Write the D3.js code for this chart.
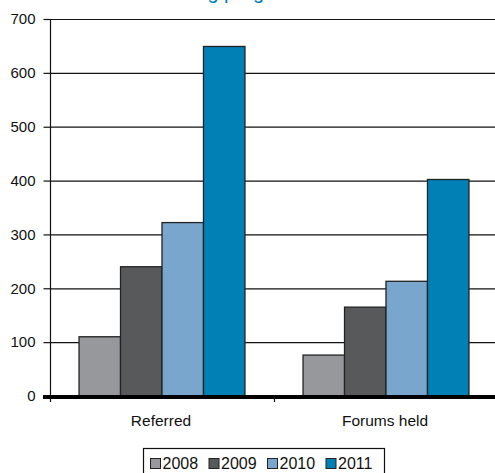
<!DOCTYPE html>
<html>
<head>
<meta charset="utf-8">
<script src="https://cdn.jsdelivr.net/npm/d3@7"></script>
<style>
body { margin: 0; background: #fff; }
svg { display: block; font-family: "Liberation Sans", Arial, sans-serif; }
</style>
</head>
<body>
<div id="graph"><svg id="chartSVG" width="495" height="473"></svg></div>
<script>
// data
const categories = ["Referred", "Forums held"];
const years = ["2008", "2009", "2010", "2011"];
const referred = [110, 240, 322, 649];
const forums = [76, 165, 213, 402];
const yTicks = [0, 100, 200, 300, 400, 500, 600, 700];
const colors = ["#97989c", "#58595b", "#78a6cc", "#0080b5"];

const series = [referred, forums];

let svg = d3.select("#graph").select("#chartSVG");

const plotLeft = 50, plotRight = 498, plotTop = 19, plotBottom = 396;

// title, mostly cut off by the top edge (as in the source picture)
svg.append("text")
    .text("Mentoring programme")
    .attr("x", 228)
    .attr("y", -1)
    .attr("text-anchor", "middle")
    .style("font-size", "20px")
    .style("fill", "#0080b5");

let xScale = d3.scaleBand()
    .domain(categories)
    .range([plotLeft, plotRight]);
let yScale = d3.scaleLinear()
    .domain([0, 700])
    .range([plotBottom, plotTop]);
let innerScale = d3.scaleBand()
    .domain(years)
    .range([0, xScale.bandwidth()])
    .paddingOuter(0.7)
    .paddingInner(0);

// gridlines
svg.append("g")
    .selectAll("line")
    .data(yTicks.filter(d => d > 0))
    .enter()
    .append("line")
    .attr("x1", plotLeft)
    .attr("x2", 495)
    .attr("y1", d => yScale(d) + 0.5)
    .attr("y2", d => yScale(d) + 0.5)
    .style("stroke", "#111")
    .style("stroke-width", 1.2);

// y axis
let yAxis = d3.axisLeft(yScale).tickValues(yTicks).tickSize(7).tickPadding(8);
let gy = svg.append("g").attr("transform", "translate(" + (plotLeft + 0.5) + ",0)").call(yAxis);
gy.select(".domain").remove();
gy.selectAll("line").style("stroke", "#111").style("stroke-width", 1.2);
gy.selectAll("text").style("font-size", "15px").style("fill", "#111");
svg.append("line")
    .attr("x1", plotLeft + 0.5).attr("x2", plotLeft + 0.5)
    .attr("y1", plotTop).attr("y2", plotBottom + 6)
    .style("stroke", "#111").style("stroke-width", 1.2);

// bars
svg.append("g")
    .selectAll("g")
    .data(series)
    .enter()
    .append("g")
    .attr("transform", (d, i) => "translate(" + xScale(categories[i]) + ",0)")
    .selectAll("rect")
    .data(d => d)
    .enter()
    .append("rect")
    .attr("x", (d, i) => innerScale(years[i]))
    .attr("y", d => yScale(d))
    .attr("width", innerScale.bandwidth())
    .attr("height", d => plotBottom - yScale(d))
    .style("fill", (d, i) => colors[i])
    .style("stroke", "#222")
    .style("stroke-width", 1.3);

// zero line and x axis
svg.append("line")
    .attr("x1", plotLeft - 7).attr("x2", 495)
    .attr("y1", plotBottom + 1).attr("y2", plotBottom + 1)
    .style("stroke", "#000").style("stroke-width", 4);
svg.append("line")
    .attr("x1", xScale(categories[1]) + 0.5).attr("x2", xScale(categories[1]) + 0.5)
    .attr("y1", plotBottom).attr("y2", plotBottom + 6)
    .style("stroke", "#111").style("stroke-width", 1.2);

svg.append("g")
    .selectAll("text")
    .data(categories)
    .enter()
    .append("text")
    .text(d => d)
    .attr("x", d => xScale(d) + xScale.bandwidth() / 2 - 1)
    .attr("y", 426)
    .attr("text-anchor", "middle")
    .style("font-size", "15.5px")
    .style("fill", "#111");

// legend
let legend = svg.append("g").attr("transform", "translate(143,448)");
legend.append("rect")
    .attr("x", 0.5).attr("y", 0.5)
    .attr("width", 241).attr("height", 30)
    .style("fill", "#fff").style("stroke", "#111").style("stroke-width", 1.2);
let item = legend.selectAll(".item")
    .data(years)
    .enter()
    .append("g")
    .attr("transform", (d, i) => "translate(" + (7 + i * 58.5) + ",0)");
item.append("rect")
    .attr("x", 0.5).attr("y", 10.5)
    .attr("width", 10).attr("height", 10)
    .style("fill", (d, i) => colors[i])
    .style("stroke", "#222").style("stroke-width", 1);
item.append("text")
    .text(d => d)
    .attr("x", 12.5).attr("y", 21)
    .style("font-size", "16px")
    .style("fill", "#111");
</script>
</body>
</html>
